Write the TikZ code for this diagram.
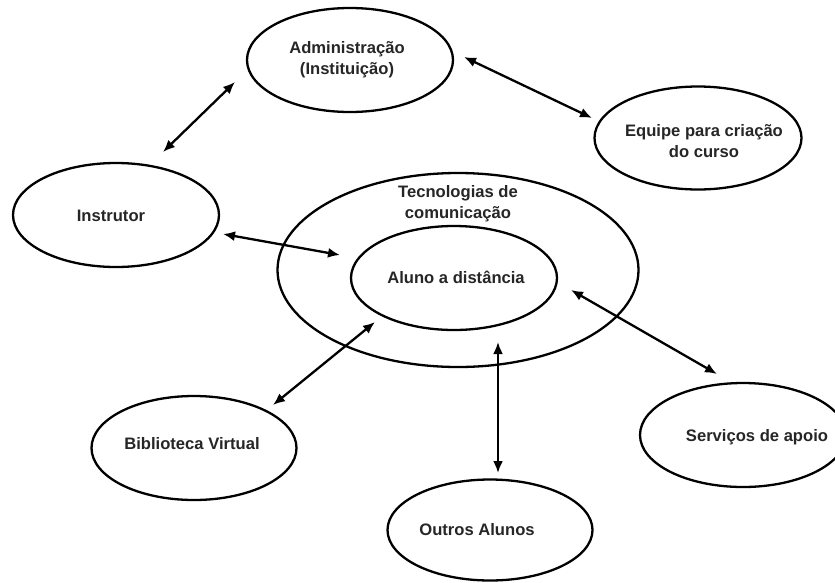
\documentclass[tikz,border=0pt]{standalone}
\usepackage{fontspec}
\setmainfont{Liberation Sans}
\usetikzlibrary{arrows.meta,shapes.geometric}
\tikzset{
  ell/.style={draw=black, line width=2.3pt, ellipse, inner sep=0pt},
  lbl/.style={align=center, inner sep=0pt, font=\fontsize{16.6}{21}\selectfont\bfseries, text=black!85},
  dbl/.style={line width=2.3pt, {Latex[length=12pt,width=10pt]}-{Latex[length=12pt,width=10pt]}}
}
\begin{document}
\begin{tikzpicture}[x=1pt,y=-1pt]
\useasboundingbox (0,0) rectangle (835,582);
\fill[white] (0,0) rectangle (835,582);
% ellipses
\node[ell, minimum width=206pt, minimum height=104pt] (adm) at (350,60) {};
\node[ell, minimum width=207pt, minimum height=103pt] (equ) at (698,138) {};
\node[ell, minimum width=206pt, minimum height=104pt] (ins) at (116,215) {};
\node[ell, minimum width=361pt, minimum height=194pt] (tec) at (458,270) {};
\node[ell, minimum width=206pt, minimum height=104pt] (alu) at (454,278) {};
\node[ell, minimum width=205pt, minimum height=104pt] (bib) at (194,448) {};
\node[ell, minimum width=206pt, minimum height=104pt] (ser) at (743,435) {};
\node[ell, minimum width=205pt, minimum height=101pt] (out) at (490,530) {};
% labels
\node[lbl] (admt) at (347,60) {Administração\\(Instituição)};
\node[lbl] (equt) at (704,141) {Equipe para criação\\do curso};
\node[lbl] (inst) at (111,216) {Instrutor};
\node[lbl] (tect) at (458,204) {Tecnologias de\\comunicação};
\node[lbl] (alut) at (456,277) {Aluno a distância};
\node[lbl] (bibt) at (192,444) {Biblioteca Virtual};
\node[lbl] (sert) at (757,437) {Serviços de apoio};
\node[lbl] (outt) at (477,530) {Outros Alunos};
% arrow ends
\coordinate (a1) at (235,82);  \coordinate (b1) at (163,152);
\coordinate (a2) at (464,57);  \coordinate (b2) at (592,118);
\coordinate (a3) at (223,234); \coordinate (b3) at (340,255);
\coordinate (a4) at (273,405); \coordinate (b4) at (375,322);
\coordinate (a5) at (498,473); \coordinate (b5) at (498,342);
\coordinate (a6) at (717,374); \coordinate (b6) at (571,290);
\draw[dbl] (a1) -- (b1);
\draw[dbl] (a2) -- (b2);
\draw[dbl] (a3) -- (b3);
\draw[dbl] (a4) -- (b4);
\draw[dbl] (a5) -- (b5);
\draw[dbl] (a6) -- (b6);
\end{tikzpicture}
\end{document}
